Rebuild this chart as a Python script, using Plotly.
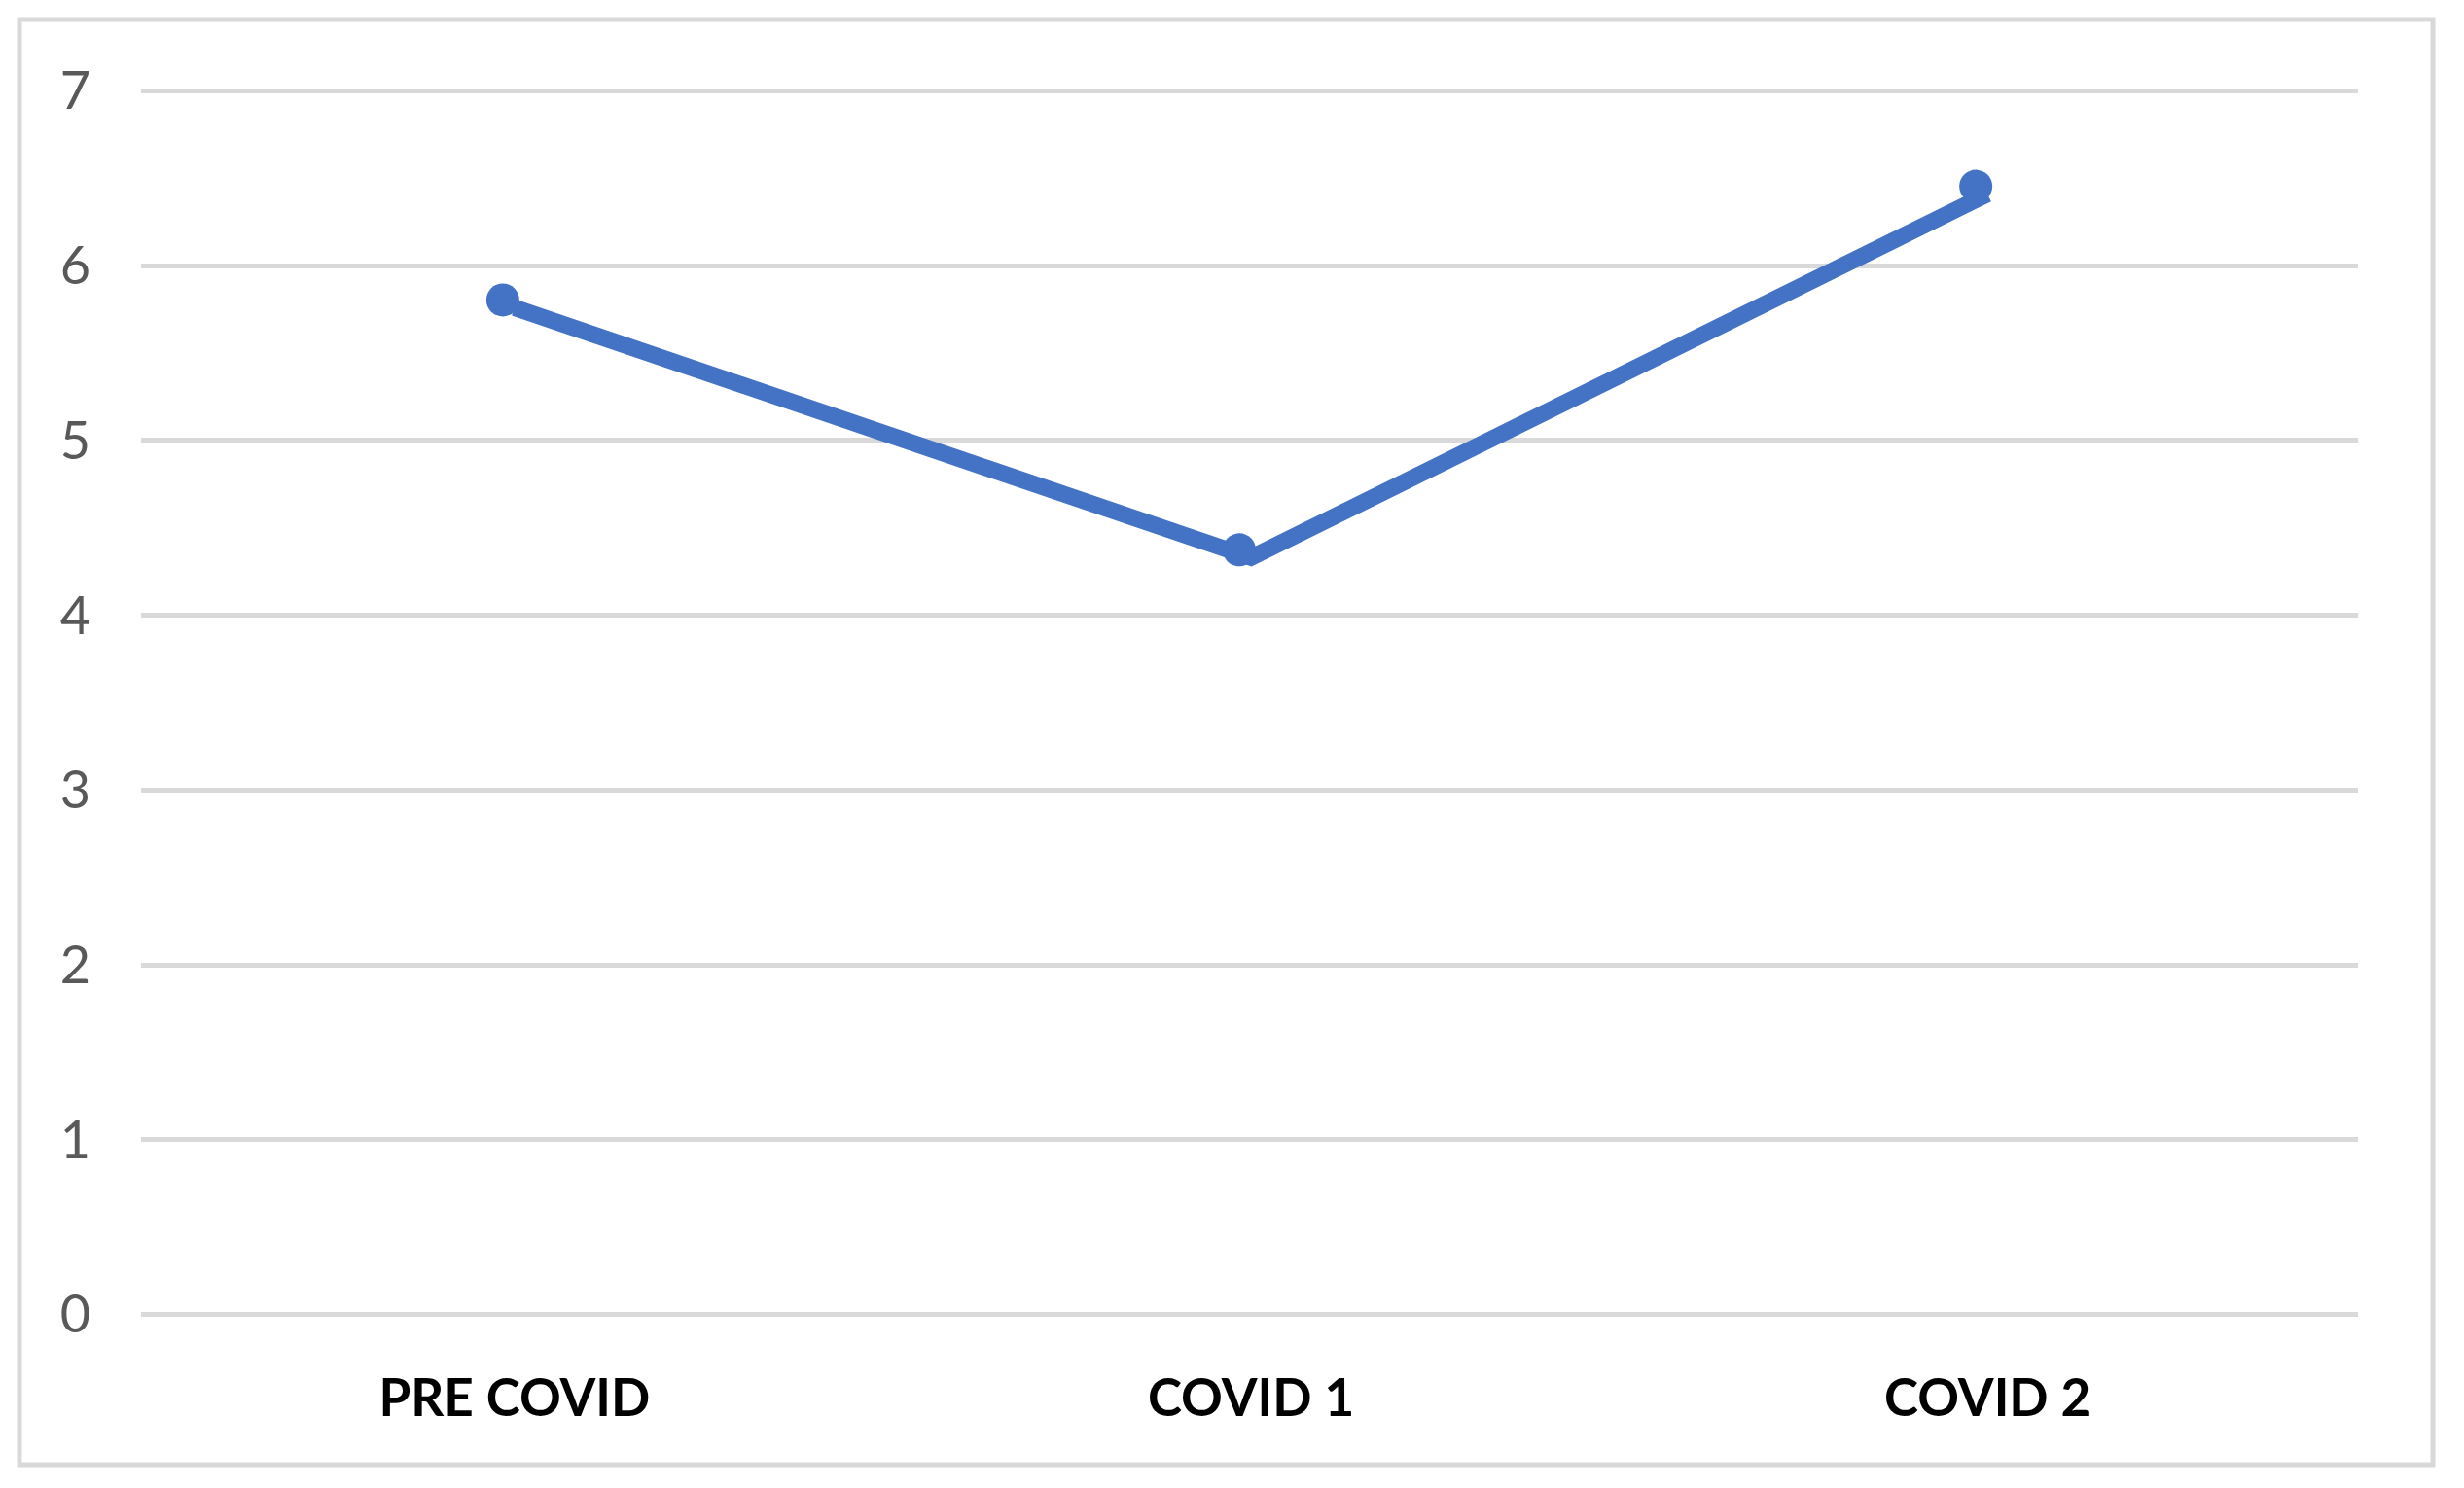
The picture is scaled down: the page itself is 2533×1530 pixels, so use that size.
import plotly.graph_objects as go

categories = ["PRE COVID", "COVID 1", "COVID 2"]
values = [5.76, 4.33, 6.41]
y_ticks = [0, 1, 2, 3, 4, 5, 6, 7]

W, H = 2533, 1530
# plot area in figure pixels (page body adds an 8px offset)
L, R, T, B = 137, 2416, 82, 1347
PW, PH = R - L, B - T
XR = [-0.507, 2.503]
YR = [-0.02, 7.02]
# Excel-like marker layer drawn slightly up-left of the line vertices
DX = 12 / (PW / (XR[1] - XR[0]))
DY = 8 / (PH / (YR[1] - YR[0]))

def px_x(p):
    return (p - L) / PW

def px_y(p):
    return (B - p) / PH

fig = go.Figure()
fig.add_trace(go.Scatter(
    x=categories, y=values, mode="lines",
    line=dict(color="#4472C4", width=17),
    showlegend=False, cliponaxis=False,
))
fig.add_trace(go.Scatter(
    x=categories, y=values, mode="markers", xaxis="x2", yaxis="y2",
    marker=dict(color="#4472C4", size=34),
    showlegend=False, cliponaxis=False,
))
fig.update_layout(
    width=W, height=H,
    paper_bgcolor="white", plot_bgcolor="white",
    margin=dict(l=L, r=W - R, t=T, b=H - B),
    font=dict(family="Lato, Open Sans, sans-serif"),
    shapes=[dict(type="rect", xref="paper", yref="paper",
                 x0=px_x(12), x1=px_x(2493), y0=px_y(1498), y1=px_y(12),
                 line=dict(color="#D9D9D9", width=5), layer="below")],
    xaxis=dict(
        type="category", range=XR,
        showgrid=False, showline=False, zeroline=False,
        tickfont=dict(size=53, color="#000000", family="Lato, Open Sans, sans-serif", weight="bold"),
        ticklabelstandoff=47,
    ),
    yaxis=dict(
        range=YR, tickvals=y_ticks,
        showgrid=True, gridcolor="#D9D9D9", gridwidth=5,
        zeroline=False, showline=False,
        tickfont=dict(size=54, color="#595959", family="Lato, Open Sans, sans-serif"),
        ticklabelstandoff=51,
    ),
    xaxis2=dict(type="category", overlaying="x", range=[XR[0] + DX, XR[1] + DX],
                visible=False, showgrid=False),
    yaxis2=dict(overlaying="y", range=[YR[0] - DY, YR[1] - DY],
                visible=False, showgrid=False),
)
fig.write_html("out.html")
